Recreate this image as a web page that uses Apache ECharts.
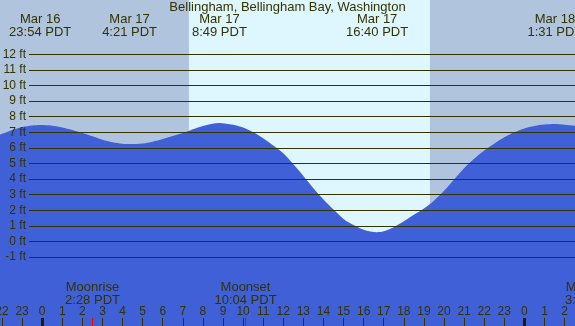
<!DOCTYPE html>
<html>
<head>
<meta charset="utf-8">
<script src="https://cdn.jsdelivr.net/npm/echarts@6/dist/echarts.min.js"></script>
<style>
html, body { margin: 0; padding: 0; }
#chartArea { width: 575px; height: 326px; }
</style>
</head>
<body>
<div id="chartArea"></div>
<script>
// hours from midnight Mar 17 (PDT), heights in ft
var tideHours = [-2.2, -2, -1.5, -1, -0.5, -0.1, 0.5, 1, 1.5, 2, 2.5, 3, 3.5, 4, 4.35, 5, 5.5, 6, 6.5, 7, 7.5, 8, 8.82,
    9.5, 10, 10.5, 11, 11.5, 12, 12.5, 13, 13.5, 14, 14.5, 15, 15.5, 16, 16.67, 17, 17.5, 18, 18.5, 19, 19.5, 20,
    20.5, 21, 21.5, 22, 22.5, 23, 23.5, 24, 24.5, 25, 25.52, 26, 26.5, 27];
var tideHeights = [6.8, 6.9, 7.15, 7.33, 7.43, 7.46, 7.42, 7.3, 7.14, 6.95, 6.74, 6.52, 6.36, 6.27, 6.25, 6.29, 6.4, 6.57, 6.76, 6.95, 7.2, 7.41, 7.6,
    7.48, 7.3, 7.0, 6.62, 6.15, 5.65, 4.95, 4.2, 3.42, 2.7, 2.05, 1.45, 1.05, 0.76, 0.6, 0.66, 0.92, 1.3, 1.72, 2.12, 2.62, 3.25,
    3.98, 4.7, 5.3, 5.83, 6.27, 6.68, 7.0, 7.25, 7.41, 7.5, 7.53, 7.49, 7.42, 7.3];

var extremeHours = [-0.1, 4.35, 8.82, 16.67, 25.52];
var extremeDates = ['Mar 16', 'Mar 17', 'Mar 17', 'Mar 17', 'Mar 18'];
var extremeTimes = ['23:54 PDT', '4:21 PDT', '8:49 PDT', '16:40 PDT', '1:31 PDT'];

var moonHours = [2.47, 10.07, 27.37];
var moonNames = ['Moonrise', 'Moonset', 'Moonrise'];
var moonTimes = ['2:28 PDT', '10:04 PDT', '3:22 PDT'];

var midnightHours = [0, 24];
var hourTicks = [-2, -1, 0, 1, 2, 3, 4, 5, 6, 7, 8, 9, 10, 11, 12, 13, 14, 15, 16, 17, 18, 19, 20, 21, 22, 23, 24, 25, 26];
var sunrise = 7.3;
var sunset = 19.3;

var ink = '#333300';
var fontName = '"Liberation Sans", Arial, sans-serif';

// pixel layout of the original picture
var pxPerFt = 15.6;
var zeroFtY = 241.5;
var H = 326;

var chartDom = document.getElementById('chartArea');
var myChart = echarts.init(chartDom);

function txt(s, x, y, size) {
    return {
        type: 'text',
        style: {
            text: s, x: x, y: y,
            textAlign: 'center', textVerticalAlign: 'middle',
            font: size + 'px ' + fontName,
            fill: ink
        }
    };
}

var option = {
    animation: false,
    title: {
        text: 'Bellingham, Bellingham Bay, Washington',
        left: 'center',
        top: 0,
        padding: [1, 0, 0, 0],
        textStyle: { fontSize: 13, fontWeight: 'normal', color: ink, fontFamily: fontName }
    },
    grid: [
        { left: 0, right: 0, top: 0, bottom: 0, outerBoundsMode: 'none', show: true, backgroundColor: '#b0c4de', borderWidth: 0 },
        { left: 29, right: 0, top: zeroFtY - 12 * pxPerFt, bottom: H - (zeroFtY + pxPerFt), outerBoundsMode: 'none' }
    ],
    xAxis: [
        {
            type: 'value', gridIndex: 0, min: -2.1, max: 26.52, position: 'bottom', z: 5,
            splitLine: { show: false },
            axisLine: { show: false, onZero: false },
            axisTick: { show: true, inside: true, length: 8, customValues: hourTicks, lineStyle: { color: ink, width: 1 } },
            axisLabel: {
                inside: true, margin: 8, customValues: hourTicks,
                fontSize: 12, color: ink, fontFamily: fontName,
                formatter: function (v) { return String(((v % 24) + 24) % 24); }
            }
        },
        { type: 'value', gridIndex: 1, show: false, min: 0, max: 1 }
    ],
    yAxis: [
        { type: 'value', gridIndex: 0, show: false, min: -(H - zeroFtY) / pxPerFt, max: zeroFtY / pxPerFt },
        {
            type: 'value', gridIndex: 1, min: -1, max: 12, interval: 1, z: 5,
            axisLine: { show: false },
            axisTick: { show: false },
            splitLine: { show: true, lineStyle: { color: ink, width: 1 } },
            axisLabel: { formatter: '{value} ft', margin: 3, fontSize: 12, color: ink, fontFamily: fontName }
        }
    ],
    series: [
        {
            type: 'line',
            xAxisIndex: 0, yAxisIndex: 0,
            data: tideHours.map(function (h, i) { return [h, tideHeights[i]]; }),
            smooth: 0.3,
            symbol: 'none',
            lineStyle: { width: 0 },
            areaStyle: { color: '#4060d7', opacity: 1, origin: 'start' },
            z: 2,
            markArea: {
                silent: true,
                itemStyle: { color: '#def6fd' },
                data: [[{ xAxis: sunrise }, { xAxis: sunset }]]
            }
        },
        {
            // high / low labels along the top
            type: 'custom',
            xAxisIndex: 0, yAxisIndex: 0,
            clip: false, z: 6, silent: true,
            data: extremeHours.map(function (h, i) { return [h, i]; }),
            renderItem: function (params, api) {
                var x = api.coord([api.value(0), 0])[0];
                var i = params.dataIndex;
                return {
                    type: 'group',
                    children: [txt(extremeDates[i], x, 19.5, 13), txt(extremeTimes[i], x, 32, 13)]
                };
            }
        },
        {
            // moon rise / set labels and red ticks
            type: 'custom',
            xAxisIndex: 0, yAxisIndex: 0,
            clip: false, z: 6, silent: true,
            data: moonHours.map(function (h, i) { return [h, i]; }),
            renderItem: function (params, api) {
                var x = Math.round(api.coord([api.value(0), 0])[0]) + 0.5;
                var i = params.dataIndex;
                return {
                    type: 'group',
                    children: [
                        txt(moonNames[i], x, 287.5, 13),
                        txt(moonTimes[i], x, 300, 13),
                        { type: 'line', shape: { x1: x, y1: 318, x2: x, y2: H }, style: { stroke: '#ff0000', lineWidth: 1 } }
                    ]
                };
            }
        },
        {
            // heavier ticks at midnight
            type: 'custom',
            xAxisIndex: 0, yAxisIndex: 0,
            clip: false, z: 6, silent: true,
            data: midnightHours.map(function (h) { return [h, 0]; }),
            renderItem: function (params, api) {
                var x = api.coord([api.value(0), 0])[0];
                return { type: 'rect', shape: { x: Math.round(x) - 1, y: 318, width: 3, height: 8 }, style: { fill: '#1f1f00' } };
            }
        }
    ]
};

option && myChart.setOption(option);
</script>
</body>
</html>
